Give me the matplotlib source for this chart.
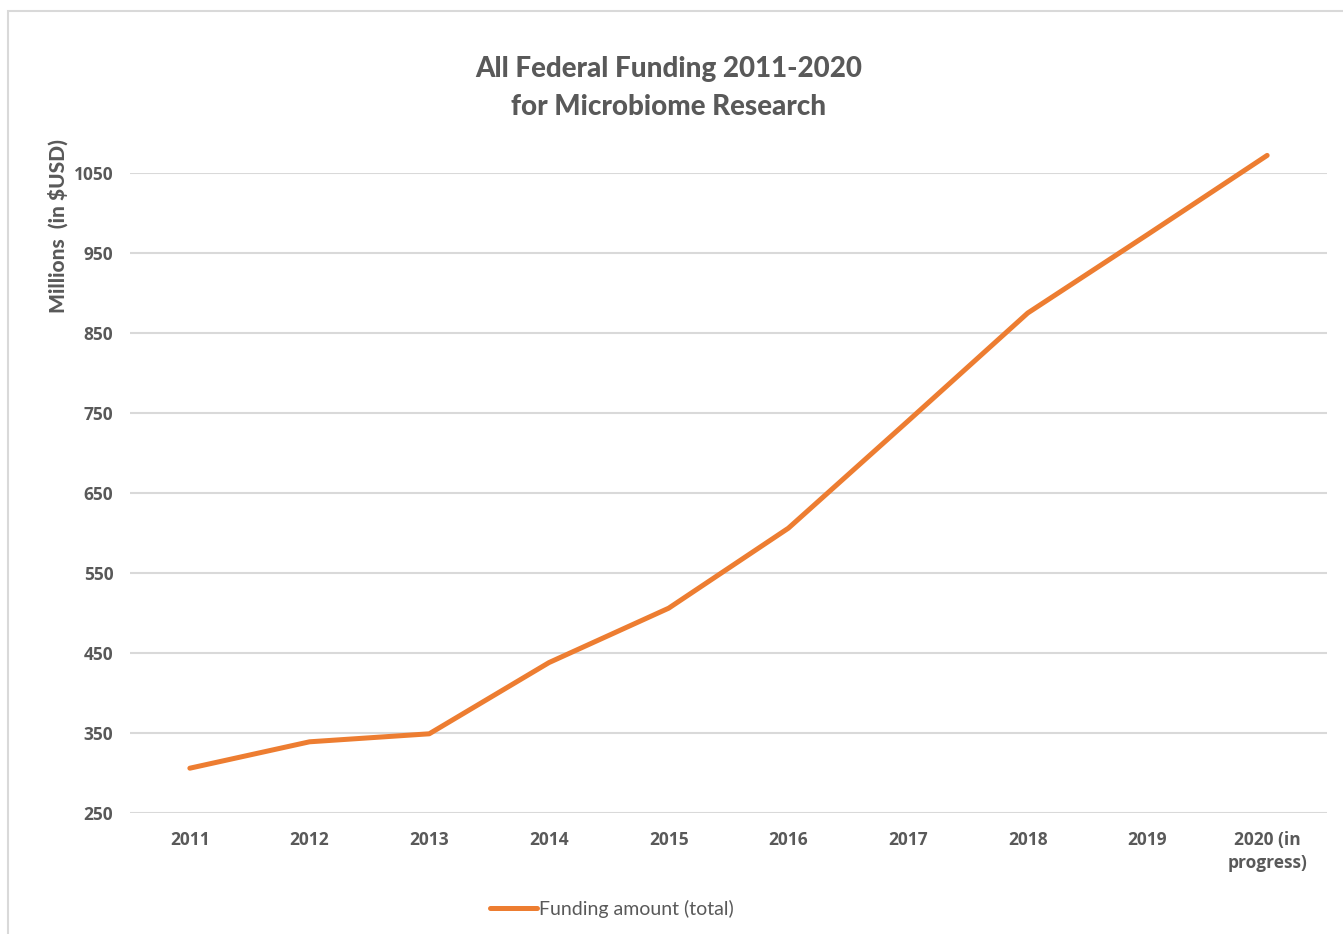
import matplotlib.pyplot as plt
from matplotlib.patches import Rectangle

# data
years = ['2011', '2012', '2013', '2014', '2015', '2016', '2017', '2018', '2019', '2020 (in\nprogress)']
funding = [306, 339, 349, 438, 506, 606, 740, 875, 973, 1072]
y_ticks = [250, 350, 450, 550, 650, 750, 850, 950, 1050]

GRAY = '#595959'
ORANGE = '#ED7D31'
GRID = '#D9D9D9'

W, H = 1343, 934
fig = plt.figure(figsize=(W / 100, H / 100), dpi=100)
ax = fig.add_axes([130 / W, 1 - 813 / H, 1197 / W, 640 / H])

x = list(range(len(years)))
ax.plot(x, funding, color=ORANGE, linewidth=3.6, solid_capstyle='round',
        clip_on=False, zorder=3, label='Funding amount (total)')

ax.set_xlim(-0.5, len(years) - 0.5)
ax.set_ylim(250, 1050)
ax.set_yticks(y_ticks)
ax.set_xticks(x)
ax.set_xticklabels(years)
ax.grid(axis='y', color=GRID, linewidth=1.5)
ax.set_axisbelow(True)
for s in ax.spines.values():
    s.set_visible(False)
ax.tick_params(axis='both', length=0, colors=GRAY)
ax.tick_params(axis='x', pad=13)
ax.tick_params(axis='y', pad=12)
for lab in ax.get_xticklabels() + ax.get_yticklabels():
    lab.set_fontfamily('Open Sans')
    lab.set_fontweight('bold')
    lab.set_fontsize(12.5)
    lab.set_color(GRAY)
    lab.set_linespacing(1.35)

fig.text(669 / W, 1 - 88 / H, 'All Federal Funding 2011-2020\nfor Microbiome Research',
         ha='center', va='center', fontsize=20, fontweight=900, color=GRAY,
         family='Lato', linespacing=1.55)
fig.text(58 / W, 1 - 226 / H, 'Millions  (in $USD)', rotation=90, ha='center', va='center',
         fontsize=15, fontweight=900, color=GRAY, family='Lato')

leg = ax.legend(loc='center', bbox_to_anchor=(612 / W, 1 - 909 / H),
                bbox_transform=fig.transFigure, frameon=False, handlelength=2.4,
                handletextpad=0.15, prop={'family': 'Lato', 'size': 14})
for t in leg.get_texts():
    t.set_color(GRAY)

# light frame around the chart
fig.add_artist(Rectangle((8 / W, -0.05), 1.2, 1 - 11 / H + 0.05, transform=fig.transFigure,
                         fill=False, edgecolor=GRID, linewidth=1.5))

fig.savefig('out.png', dpi=100)
